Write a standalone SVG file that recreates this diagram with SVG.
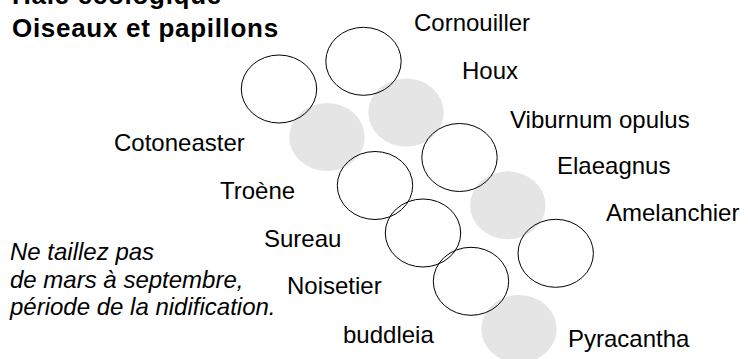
<svg xmlns="http://www.w3.org/2000/svg" width="748" height="359" viewBox="0 0 748 359">
  <style>
    .shrub { fill: none; stroke: #000; stroke-width: 1; }
    .berry { fill: #e5e5e5; stroke: none; }
    .lbl { font-family: "Liberation Sans", Arial, sans-serif; font-size: 24px; fill: #000; }
    .note { font-family: "Liberation Sans", Arial, sans-serif; font-size: 24px; font-style: italic; fill: #000; }
    .title { font-family: "Liberation Sans", Arial, sans-serif; font-size: 26px; font-weight: bold; letter-spacing: 0.7px; fill: #000; }
  </style>
  <rect width="748" height="359" fill="#fff"/>
  <g id="title">
    <text class="title" x="12" y="4">Haie écologique</text>
    <text class="title" x="12" y="37">Oiseaux et papillons</text>
  </g>
  <g id="nodes">
    <g id="n-cotoneaster-gray"><ellipse class="berry" cx="327" cy="137" rx="37.7" ry="34"/></g>
    <g id="n-houx"><ellipse class="berry" cx="406" cy="112.5" rx="37.7" ry="34"/></g>
    <g id="n-elaeagnus"><ellipse class="berry" cx="507.8" cy="205.3" rx="37.7" ry="34"/></g>
    <g id="n-pyracantha"><ellipse class="berry" cx="519" cy="329" rx="37.7" ry="34"/></g>
    <g id="n-left"><ellipse class="shrub" cx="279" cy="89" rx="37.7" ry="34"/></g>
    <g id="n-cornouiller"><ellipse class="shrub" cx="363.5" cy="61.3" rx="37.7" ry="34"/></g>
    <g id="n-viburnum"><ellipse class="shrub" cx="459.5" cy="157.5" rx="37.7" ry="34"/></g>
    <g id="n-troene"><ellipse class="shrub" cx="375" cy="185.5" rx="37.7" ry="34"/></g>
    <g id="n-sureau"><ellipse class="shrub" cx="423" cy="233" rx="37.7" ry="34"/></g>
    <g id="n-amelanchier"><ellipse class="shrub" cx="555.7" cy="253.3" rx="37.7" ry="34"/></g>
    <g id="n-noisetier"><ellipse class="shrub" cx="471" cy="281.3" rx="37.7" ry="34"/></g>
  </g>
  <g id="connectors"></g>
  <g id="labels">
    <text class="lbl" x="414" y="31">Cornouiller</text>
    <text class="lbl" x="462" y="79">Houx</text>
    <text class="lbl" x="510" y="128">Viburnum opulus</text>
    <text class="lbl" x="114" y="151">Cotoneaster</text>
    <text class="lbl" x="557" y="174">Elaeagnus</text>
    <text class="lbl" x="220" y="199">Troène</text>
    <text class="lbl" x="606" y="221">Amelanchier</text>
    <text class="lbl" x="264" y="247">Sureau</text>
    <text class="lbl" x="287" y="294">Noisetier</text>
    <text class="lbl" x="343" y="343">buddleia</text>
    <text class="lbl" x="568" y="347">Pyracantha</text>
  </g>
  <g id="note">
    <text class="note" x="10" y="260">Ne taillez pas</text>
    <text class="note" x="10" y="288">de mars à septembre,</text>
    <text class="note" x="10" y="315">période de la nidification.</text>
  </g>
</svg>
